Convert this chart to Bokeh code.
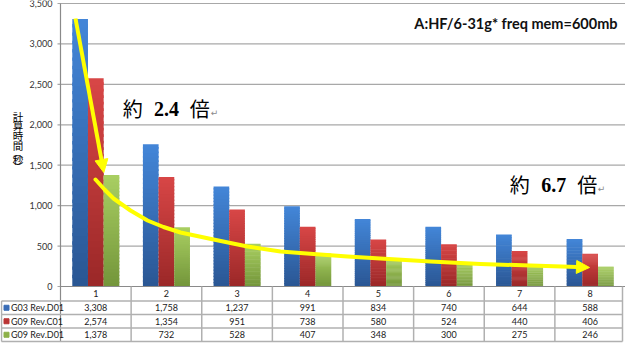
import numpy as np
from bokeh.plotting import figure
from bokeh.models import Range1d, Arrow, NormalHead, ColumnDataSource
from bokeh.embed import file_html
from bokeh.resources import INLINE
from bokeh.core.properties import value

# ---------------- data ----------------
categories = ["1", "2", "3", "4", "5", "6", "7", "8"]
series_names = ["G03 Rev.D01", "G09 Rev.C01", "G09 Rev.D01"]
g03_rev_d01 = [3308, 1758, 1237, 991, 834, 740, 644, 588]
g09_rev_c01 = [2574, 1354, 951, 738, 580, 524, 440, 406]
g09_rev_d01 = [1378, 732, 528, 407, 348, 300, 275, 246]
y_ticks = [0, 500, 1000, 1500, 2000, 2500, 3000, 3500]
y_title = ["計", "算", "時", "間", "︵", "秒", "︶"]
note_title = "A:HF/6-31g* freq mem=600mb"
ratio_labels = ["約 2.4 倍", "約 6.7 倍"]

series_values = [g03_rev_d01, g09_rev_c01, g09_rev_d01]

# ---------------- layout constants ----------------
W, H = 625, 343
ZERO_PX = 286      # pixel row of value 0
TOP_PX = 3         # pixel row of value YMAX
LEFT = 60
YMAX = 3500
CAT_W = (W - LEFT) / len(categories)

def px_x(px):
    return 0.5 + (px - LEFT) / CAT_W

def px_y(py):
    return (ZERO_PX - py) * YMAX / (ZERO_PX - TOP_PX)

top_cols = ["#4386d8", "#d84646", "#a9cf62"]
bot_cols = ["#2a5693", "#9a2828", "#73953a"]
key_cols = ["#3a6db6", "#ba3434", "#8db14a"]
offsets = [-0.222, 0.0, 0.222]
BAR_W = 0.222
FONT = value("Lato")

def hex2rgb(h):
    h = h.lstrip("#")
    return np.array([int(h[i:i + 2], 16) for i in (0, 2, 4)], dtype=float)

def rgb2hex(c):
    return "#%02x%02x%02x" % tuple(int(round(v)) for v in c)

p = figure(width=W, height=H, x_range=Range1d(px_x(0), px_x(W)), y_range=Range1d(px_y(H), px_y(0)),
           output_backend="svg", toolbar_location=None, x_axis_location=None, y_axis_location=None,
           min_border_left=0, min_border_right=0, min_border_top=0, min_border_bottom=0)
p.outline_line_color = None
p.background_fill_color = "white"
p.border_fill_color = "white"
p.xgrid.visible = False
p.ygrid.visible = False

# ---- value axis: gridlines, ticks, labels ----
GRIDC = "#a8a8a8"
p.segment(x0=[px_x(57)] * len(y_ticks), y0=y_ticks, x1=[px_x(W)] * len(y_ticks), y1=y_ticks,
          line_color=GRIDC, line_width=1.2)
p.segment(x0=[0.5], y0=[px_y(341)], x1=[0.5], y1=[YMAX], line_color="#8a8a8a", line_width=1.2)
p.text(x=[px_x(52)] * len(y_ticks), y=y_ticks, text=[f"{v:,}" for v in y_ticks],
       text_align="right", text_baseline="middle", text_font=FONT, text_font_size="9px",
       text_color="#333333")

# vertical axis title (stacked characters)
yt_pos = [115.5, 125.3, 135.1, 144.9, 151.8, 158.8, 166]
p.text(x=[px_x(17.5)] * len(y_title), y=[px_y(v) for v in yt_pos], text=y_title,
       text_align="center", text_baseline="middle", text_font=value("Noto Sans CJK JP"),
       text_font_size="10.5px", text_color="#000000")

# ---- gradient bars built from slices of each data value ----
N = 32
xs_cat = np.arange(1, len(categories) + 1)
for s, vals in enumerate(series_values):
    tc, bc = hex2rgb(top_cols[s]), hex2rgb(bot_cols[s])
    X, B, T, C = [], [], [], []
    for i, v in enumerate(vals):
        for k in range(N):
            f = (k + 0.5) / N
            X.append(xs_cat[i] + offsets[s])
            B.append(v * k / N)
            T.append(min(v, v * (k + 1.4) / N))
            C.append(rgb2hex(bc + (tc - bc) * f))
    src = ColumnDataSource(dict(x=X, b=B, t=T, c=C))
    p.vbar(x="x", bottom="b", top="t", width=BAR_W, fill_color="c", line_color=None, source=src)

# ---- yellow arrows (annotations) ----
YEL = "#ffff00"
a1_start = (75, 18)
a1_tip = (103.3, 172)
d = np.array(a1_tip) - np.array(a1_start)
u = d / np.linalg.norm(d)
a1_base = np.array(a1_tip) - 11 * u
p.line([px_x(a1_start[0]), px_x(a1_base[0])], [px_y(a1_start[1]), px_y(a1_base[1])],
       line_color=YEL, line_width=4)
p.add_layout(Arrow(x_start=px_x(a1_base[0]), y_start=px_y(a1_base[1]),
                   x_end=px_x(a1_tip[0]), y_end=px_y(a1_tip[1]), line_alpha=0,
                   end=NormalHead(size=13, fill_color=YEL, line_color=YEL)))

curve_px = [(95, 179), (104, 189), (113, 198), (130, 210), (147, 220), (163, 226.5), (180, 232),
            (213, 239), (247, 246), (280, 251), (313, 253.5), (347, 256), (380, 258),
            (430, 261), (480, 263.5), (530, 265), (577, 266.5)]
p.line([px_x(a) for a, b in curve_px], [px_y(b) for a, b in curve_px],
       line_color=YEL, line_width=4, line_join="round", line_cap="round")
p.add_layout(Arrow(x_start=px_x(577), y_start=px_y(266.5), x_end=px_x(589), y_end=px_y(267),
                   line_alpha=0, end=NormalHead(size=13, fill_color=YEL, line_color=YEL)))

# ---- note title ----
p.text(x=[px_x(617)], y=[px_y(23)], text=[note_title], text_align="right",
       text_baseline="middle", text_font=FONT, text_font_style="bold",
       text_font_size="14.5px", text_color="#111111")

# ---- ratio annotations ----
ratio_pos = [dict(k1=132.2, num=166, k2=199.2, y=108, ret=214),
             dict(k1=519.2, num=553.3, k2=586.7, y=184, ret=601)]
for txt, pos in zip(ratio_labels, ratio_pos):
    k1, num, k2 = txt.split(" ")
    yv = [px_y(pos["y"])]
    p.text(x=[px_x(pos["k1"])], y=yv, text=[k1], text_align="center", text_baseline="middle",
           text_font=value("Noto Sans CJK JP"), text_font_size="20px", text_color="#000000")
    p.text(x=[px_x(pos["num"])], y=yv, text=[num], text_align="center", text_baseline="middle",
           text_font=value("Liberation Serif"), text_font_style="bold", text_font_size="20px",
           text_color="#000000")
    p.text(x=[px_x(pos["k2"])], y=yv, text=[k2], text_align="center", text_baseline="middle",
           text_font=value("Noto Sans CJK JP"), text_font_size="20px", text_color="#000000")
    p.text(x=[px_x(pos["ret"])], y=[px_y(pos["y"] + 4)], text=["↵"], text_align="center",
           text_baseline="middle", text_font=value("DejaVu Sans"), text_font_size="9px",
           text_color="#8a8a8a")

# ---------------- data table ----------------
row_px = [286, 300.5, 314, 327.5, 341]
row_edges = [px_y(v) for v in row_px]
row_mid = [(row_edges[i] + row_edges[i + 1]) / 2 for i in range(4)]
x_left = px_x(1)
x_right = px_x(622)
TGRID = "#b0b0b0"

p.segment(x0=[0.5], y0=[row_edges[0]], x1=[px_x(W)], y1=[row_edges[0]], line_color="#8a8a8a", line_width=1.2)
p.segment(x0=[x_left] * 4, y0=row_edges[1:], x1=[x_right] * 4, y1=row_edges[1:],
          line_color=TGRID, line_width=1.5)
vx = [1.5 + i for i in range(len(categories) - 1)] + [x_right]
p.segment(x0=vx, y0=[row_edges[0]] * len(vx), x1=vx, y1=[row_edges[-1]] * len(vx),
          line_color=TGRID, line_width=1.5)
p.segment(x0=[x_left], y0=[row_edges[1]], x1=[x_left], y1=[row_edges[-1]], line_color=TGRID, line_width=1.5)

p.text(x=list(xs_cat), y=[row_mid[0]] * len(categories), text=categories, text_align="center",
       text_baseline="middle", text_font=FONT, text_font_size="9px", text_color="#1a1a1a")
for s, vals in enumerate(series_values):
    p.text(x=list(xs_cat), y=[row_mid[s + 1]] * len(vals), text=[f"{v:,}" for v in vals],
           text_align="center", text_baseline="middle", text_font=FONT, text_font_size="9px",
           text_color="#1a1a1a")
p.scatter(x=[px_x(6)] * 3, y=row_mid[1:], marker="square", size=5, color=key_cols)
p.text(x=[px_x(10.5)] * 3, y=row_mid[1:], text=series_names, text_align="left",
       text_baseline="middle", text_font=FONT, text_font_size="9px", text_color="#1a1a1a")

open("out.html", "w").write(file_html(p, INLINE))
